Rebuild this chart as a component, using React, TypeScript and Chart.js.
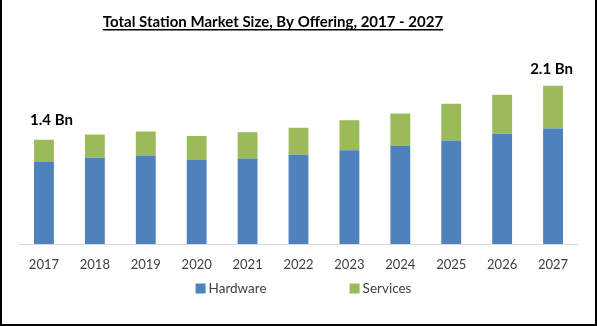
import React, { useEffect, useRef } from "react";
import { Chart, registerables } from "chart.js";

Chart.register(...registerables);

const years = ["2017", "2018", "2019", "2020", "2021", "2022", "2023", "2024", "2025", "2026", "2027"];
const hardware = [1.1, 1.15, 1.18, 1.12, 1.14, 1.19, 1.25, 1.31, 1.38, 1.47, 1.54];
const services = [0.29, 0.31, 0.32, 0.32, 0.35, 0.36, 0.4, 0.43, 0.49, 0.52, 0.57];
const seriesNames = ["Hardware", "Services"];
const seriesColors = ["#4F81BD", "#9BBB59"];
const titleText = "Total Station Market Size, By Offering, 2017 - 2027";
const calloutIndexes = [0, 10];
const unitLabel = "Bn";

const FONT = "Lato, 'Open Sans', sans-serif";

const overlayPlugin = {
  id: "overlay",
  afterDraw(chart: any) {
    const ctx = chart.ctx;
    ctx.save();
    // Title with underline
    ctx.font = `bold 15px ${FONT}`;
    ctx.fillStyle = "#000";
    ctx.textAlign = "center";
    ctx.textBaseline = "alphabetic";
    const tx = 271;
    const ty = 27;
    ctx.fillText(titleText, tx, ty);
    const tw = ctx.measureText(titleText).width;
    ctx.fillRect(tx - tw / 2, ty + 2, tw, 1.5);

    // Callouts
    const meta = chart.getDatasetMeta(1);
    const offsets = [
      [7.5, -20],
      [-1.5, -17],
    ];
    ctx.font = `bold 15px ${FONT}`;
    ctx.textBaseline = "middle";
    calloutIndexes.forEach((idx, k) => {
      const el = meta.data[idx];
      if (!el) return;
      const total = hardware[idx] + services[idx];
      const label = `${total.toFixed(1)} ${unitLabel}`;
      ctx.fillText(label, el.x + offsets[k][0], el.y + offsets[k][1]);
    });

    // Legend
    ctx.font = `13.5px ${FONT}`;
    ctx.textAlign = "left";
    ctx.textBaseline = "middle";
    const box = 10;
    const gapBoxText = 3;
    const itemGap = 83;
    const widths = seriesNames.map((n) => box + gapBoxText + ctx.measureText(n).width);
    const totalW = widths.reduce((a, b) => a + b, 0) + itemGap * (seriesNames.length - 1);
    let x = 301.5 - totalW / 2;
    const ly = 288.5;
    seriesNames.forEach((n, i) => {
      ctx.fillStyle = seriesColors[i];
      ctx.fillRect(x, ly - box / 2, box, box);
      ctx.fillStyle = "#404040";
      ctx.fillText(n, x + box + gapBoxText, ly);
      x += widths[i] + itemGap;
    });
    ctx.restore();
  },
};

export default function App() {
  const canvasRef = useRef<HTMLCanvasElement | null>(null);

  useEffect(() => {
    if (!canvasRef.current) return;
    const chart = new Chart(canvasRef.current, {
      type: "bar",
      data: {
        labels: years,
        datasets: [
          {
            label: seriesNames[0],
            data: hardware,
            backgroundColor: seriesColors[0],
            borderWidth: 0,
            barPercentage: 0.39,
            categoryPercentage: 1,
          },
          {
            label: seriesNames[1],
            data: services,
            backgroundColor: seriesColors[1],
            borderWidth: 0,
            barPercentage: 0.39,
            categoryPercentage: 1,
          },
        ],
      },
      options: {
        animation: false,
        responsive: true,
        maintainAspectRatio: false,
        layout: { padding: { top: 64, left: 16.5, right: 16.5, bottom: 46.4 } },
        plugins: {
          legend: { display: false },
          title: { display: false },
          tooltip: { enabled: false },
        },
        scales: {
          x: {
            stacked: true,
            grid: { display: false },
            border: { display: true, color: "#d9d9d9", width: 1 },
            ticks: {
              color: "#404040",
              font: { family: FONT, size: 13 },
              padding: 5,
              maxRotation: 0,
            },
          },
          y: {
            stacked: true,
            display: false,
            min: 0,
            max: 2.4,
          },
        },
      },
      plugins: [overlayPlugin],
    });
    return () => chart.destroy();
  }, []);

  return (
    <div
      style={{
        position: "fixed",
        left: 0,
        top: 0,
        width: 597,
        height: 326,
        boxSizing: "border-box",
        borderLeft: "2px solid #000",
        borderRight: "2px solid #000",
        borderBottom: "2px solid #000",
        background: "#fff",
      }}
    >
      <div style={{ position: "relative", width: 593, height: 324 }}>
        <canvas ref={canvasRef} />
      </div>
    </div>
  );
}
